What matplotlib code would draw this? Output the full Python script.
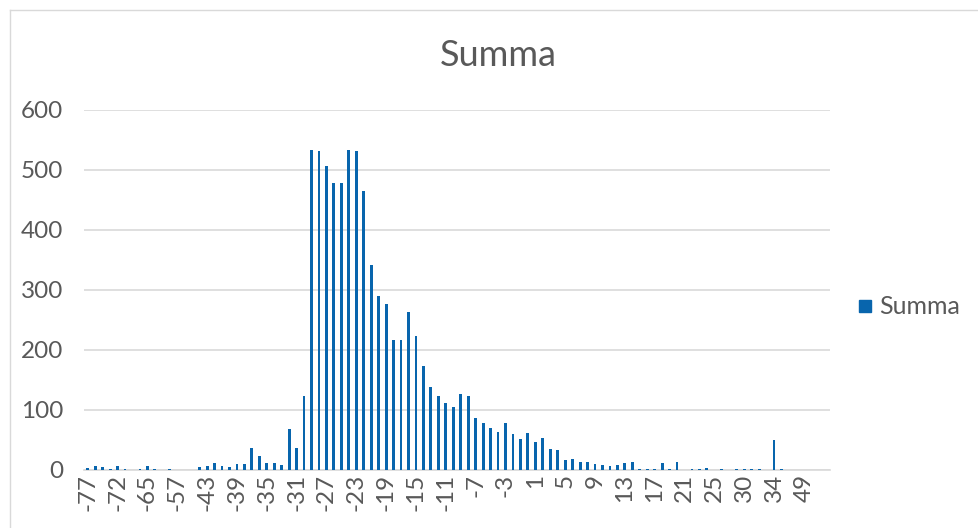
import matplotlib.pyplot as plt
from matplotlib.lines import Line2D

plt.rcParams['font.family'] = ['Lato', 'DejaVu Sans']

# category labels (x axis), only every 4th one is shown in the chart
categories = [-77, -76, -75, -74, -72, -70, -68, -67, -65, -63, -61, -60,
              -57, -52, -48, -45,
              -43, -42, -41, -40, -39, -38, -37, -36, -35, -34, -33, -32,
              -31, -30, -29, -28, -27, -26, -25, -24, -23, -22, -21, -20,
              -19, -18, -17, -16, -15, -14, -13, -12, -11, -10, -9, -8,
              -7, -6, -5, -4, -3, -2, -1, 0, 1, 2, 3, 4,
              5, 6, 7, 8, 9, 10, 11, 12, 13, 14, 15, 16,
              17, 18, 19, 20, 21, 22, 23, 24, 25, 26, 27, 29,
              30, 31, 32, 33, 34, 35, 38, 42, 49, 52, 57, 61]

summa = [4, 6, 5, 2, 7, 2, 0, 1, 7, 1, 0, 1,
         0, 0, 0, 5,
         6, 11, 6, 5, 10, 10, 36, 23, 11, 12, 8, 68,
         37, 123, 534, 532, 506, 478, 479, 534, 532, 465, 341, 290,
         276, 216, 217, 263, 223, 173, 138, 123, 111, 105, 126, 123,
         87, 78, 70, 63, 78, 60, 51, 62, 46, 53, 35, 34,
         17, 19, 13, 13, 10, 8, 7, 8, 12, 14, 1, 2,
         1, 11, 1, 14, 0, 2, 1, 3, 0, 2, 0, 1,
         2, 1, 2, 0, 50, 1, 0, 0, 0, 0, 0, 0]

bar_color = '#0865AD'
text_color = '#595959'
grid_color = '#D9D9D9'

fig = plt.figure(figsize=(9.79, 5.28), dpi=100)
ax = fig.add_axes([84 / 979, 1 - 470 / 528, (830 - 84) / 979, 360 / 528])

x = list(range(len(categories)))
ax.bar(x, summa, width=0.38, color=bar_color, zorder=3)

ax.set_xlim(-0.5, len(categories) - 0.5)
ax.set_ylim(0, 600)
ax.set_yticks([0, 100, 200, 300, 400, 500, 600])
ax.set_xticks(x[::4])
ax.set_xticklabels([str(c) for c in categories[::4]], rotation=90)

ax.grid(axis='y', color=grid_color, linewidth=1.2, zorder=0)
for s in ['top', 'right', 'left']:
    ax.spines[s].set_visible(False)
ax.spines['bottom'].set_color(grid_color)
ax.spines['bottom'].set_linewidth(1.2)
ax.tick_params(axis='both', length=0, labelsize=17.5, colors=text_color)
ax.tick_params(axis='y', pad=15)
ax.tick_params(axis='x', pad=3)

fig.text(498 / 979, 1 - 55 / 528, 'Summa', ha='center', va='center',
         fontsize=26, color=text_color)

handle = Line2D([], [], marker='s', linestyle='none', markersize=8,
                color=bar_color)
fig.legend([handle], ['Summa'], loc='center left',
           bbox_to_anchor=(855 / 979, 1 - 307 / 528), frameon=False,
           borderpad=0, borderaxespad=0, handlelength=0.8,
           handletextpad=0.15, fontsize=18, labelcolor=text_color)

# chart frame
fig.add_artist(Line2D([10 / 979, 1], [1 - 10 / 528, 1 - 10 / 528],
                      color=grid_color, linewidth=1))
fig.add_artist(Line2D([10 / 979, 10 / 979], [0, 1 - 10 / 528],
                      color=grid_color, linewidth=1))

fig.savefig('out.png', dpi=100)
